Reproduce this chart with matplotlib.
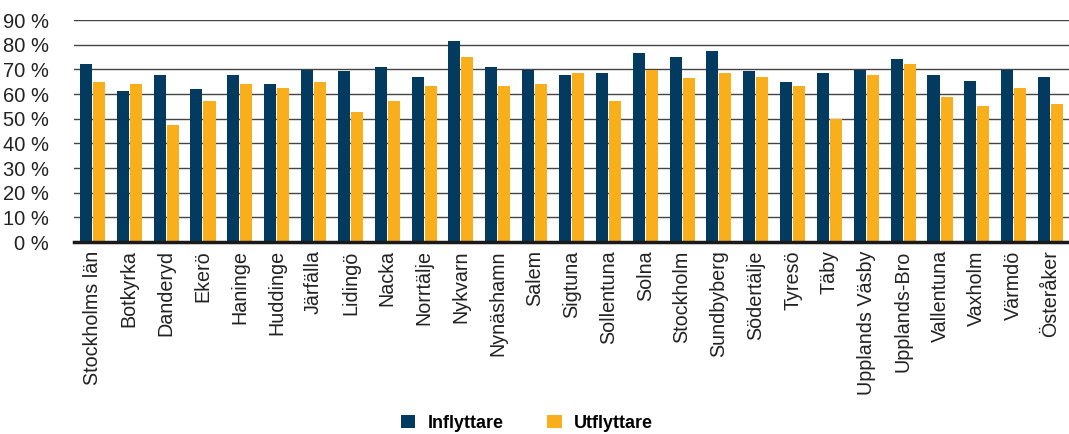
import numpy as np
import matplotlib
matplotlib.use("Agg")
import matplotlib.pyplot as plt
from matplotlib.ticker import MultipleLocator, FuncFormatter

kommuner = ["Stockholms län", "Botkyrka", "Danderyd", "Ekerö", "Haninge", "Huddinge",
            "Järfälla", "Lidingö", "Nacka", "Norrtälje", "Nykvarn", "Nynäshamn", "Salem",
            "Sigtuna", "Sollentuna", "Solna", "Stockholm", "Sundbyberg", "Södertälje",
            "Tyresö", "Täby", "Upplands Väsby", "Upplands-Bro", "Vallentuna", "Vaxholm",
            "Värmdö", "Österåker"]
inflyttare = [72.1, 61.1, 67.6, 61.9, 67.6, 64.0, 69.6, 69.2, 70.9, 66.8, 81.4, 70.9, 69.6,
              67.6, 68.4, 76.6, 74.9, 77.4, 69.2, 64.8, 68.4, 69.6, 74.1, 67.6, 65.2,
              69.6, 66.8]
utflyttare = [64.8, 64.0, 47.3, 57.0, 64.0, 62.3, 64.8, 52.6, 57.0, 63.1, 74.9, 63.1, 64.0,
              68.4, 57.0, 69.6, 66.4, 68.4, 66.8, 63.1, 49.7, 67.6, 72.1, 58.7, 55.0,
              62.3, 55.8]

plt.rcParams['font.family'] = ['Liberation Sans', 'DejaVu Sans']

fig = plt.figure(figsize=(10.69, 4.34), dpi=100)
ax = fig.add_axes([74 / 1069, 192 / 434, 1 - 74 / 1069, 222 / 434])

x = np.arange(len(kommuner))
w = 0.326
ax.bar(x - w / 2 - 0.014, inflyttare, w, color='#023b5f', label='Inflyttare', zorder=3)
ax.bar(x + w / 2 + 0.014, utflyttare, w, color='#f9ae1c', label='Utflyttare', zorder=3)

ax.set_xlim(-0.5, len(kommuner) - 0.5)
ax.set_ylim(0, 90)
ax.yaxis.set_major_locator(MultipleLocator(10))
ax.yaxis.set_major_formatter(FuncFormatter(lambda v, p: f"{int(v)} %"))
ax.grid(axis='y', color='#444444', linewidth=1.0, zorder=0)

ax.set_xticks(x)
ax.set_xticklabels(kommuner, rotation=90, fontsize=14.2, color='#222222')
ax.tick_params(axis='y', labelsize=14.5, colors='#222222', length=0, pad=18)
ax.tick_params(axis='x', length=0, pad=6)

for s in ['top', 'right', 'left']:
    ax.spines[s].set_visible(False)
ax.spines['bottom'].set_linewidth(2.5)
ax.spines['bottom'].set_color('#1a1a1a')
ax.spines['bottom'].set_zorder(4)

fig.legend(loc='center', bbox_to_anchor=(0.493, 0.025), ncol=2, frameon=False,
           prop={'weight': 'bold', 'size': 13}, handlelength=0.8, handleheight=0.8,
           columnspacing=2.4, handletextpad=0.7)

fig.savefig('out.png', dpi=100)
